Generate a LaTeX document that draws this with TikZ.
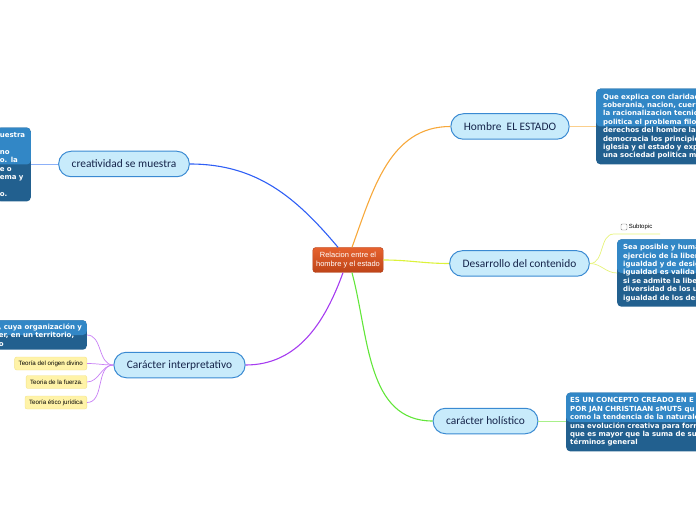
\documentclass[tikz,border=0pt]{standalone}
\usepackage{fontspec}
\newfontfamily\topicfont{Carlito}
\newfontfamily\boxfont{DejaVu Sans}
\newfontfamily\rootfont{Liberation Sans}
\usetikzlibrary{positioning}

\definecolor{rootTop}{HTML}{E6622E}
\definecolor{rootBot}{HTML}{BE4418}
\definecolor{rootLine}{HTML}{B03A14}
\definecolor{topicFill}{HTML}{C8EBFB}
\definecolor{topicLine}{HTML}{3A8AD2}
\definecolor{topicText}{HTML}{15244A}
\definecolor{boxTop}{HTML}{3287C6}
\definecolor{boxBot}{HTML}{22608F}
\definecolor{theoryFill}{HTML}{FFF3A8}
\definecolor{theoryLine}{HTML}{F3E38A}
\definecolor{linkBlue}{HTML}{2F5FF5}
\definecolor{linkOrange}{HTML}{F7A83A}
\definecolor{linkYellow}{HTML}{DCF23A}
\definecolor{linkGreen}{HTML}{62E63A}
\definecolor{linkPurple}{HTML}{A63CF0}
\definecolor{twigBlue}{HTML}{8CB0F8}
\definecolor{twigOrange}{HTML}{FBCF8C}
\definecolor{twigYellow}{HTML}{E6F37A}
\definecolor{twigGreen}{HTML}{A8F08A}
\definecolor{twigPurple}{HTML}{C880F5}

\tikzset{
  rootnode/.style={draw=rootLine, top color=rootTop, bottom color=rootBot, text=white,
    rounded corners=3, minimum width=70, minimum height=25, align=center,
    font=\rootfont\fontsize{7.5}{8.3}\selectfont},
  topic/.style={draw=topicLine, fill=topicFill, text=topicText, line width=1,
    rounded corners=12.5, minimum height=25.5, inner xsep=13,
    font=\topicfont\fontsize{11.4}{13}\selectfont},
  infobox/.style={fill=boxBot, text=white, rounded corners=4, align=left,
    inner xsep=6, inner ysep=5,
    font=\boxfont\bfseries\fontsize{7}{8.4}\selectfont,
    path picture={\fill[boxTop] (path picture bounding box.north west)
      rectangle (path picture bounding box.east);}},
  theory/.style={draw=theoryLine, fill=theoryFill, rounded corners=2,
    minimum height=13, inner xsep=4, inner ysep=1,
    font=\rootfont\fontsize{6.2}{7}\selectfont},
  checkbox/.style={draw=gray, fill=white, rounded corners=1, minimum size=6, inner sep=0},
  branch/.style={line width=1.1},
  twig/.style={line width=0.7},
}

\begin{document}
\begin{tikzpicture}[x=1pt, y=1pt]
    \useasboundingbox (0,0) rectangle (696,520);
    \clip (0,0) rectangle (696,520);
    % Central idea
    \node[rootnode] (root) at (348,260) {Relacion entre el\\hombre y el estado};
    % Main topics
    \node[topic] (crea) at (124,356) {creatividad se muestra};
    \node[topic] (hombre) at (510,393.5) {Hombre\ \ EL ESTADO};
    \node[topic] (desa) at (519.5,256.5) {Desarrollo del contenido};
    \node[topic] (holi) at (485.5,99) {carácter holístico};
    \node[topic] (inter) at (179.5,155) {Carácter interpretativo};
    % Text boxes (cut by the page edge)
    \node[infobox, text width=28, inner xsep=3, anchor=east] (creabox) at (31,355.5)
      {uestra\\\mbox{}\\no\\o. la\\e o\\ema y\\\mbox{}\\o.};
    \node[infobox, text width=130, inner xsep=7, anchor=west] (hombrebox) at (596,393.5)
      {Que explica con claridad\\soberania, nacion, cuerp\\la racionalizacion tecnic\\politica el problema filo\\derechos del hombre la\\democracia los principio\\iglesia y el estado y exp\\una sociedad politica m};
    \node[infobox, text width=120, anchor=west] (desabox) at (617,247)
      {Sea posible y huma\\ejercicio de la liber\\igualdad y de desig\\igualdad es valida\\si se admite la liber\\diversidad de los u\\igualdad de los der};
    \node[infobox, text width=160, inner xsep=4, anchor=west] (holibox) at (566,98)
      {ES UN CONCEPTO CREADO EN E\\POR JAN CHRISTIAAN sMUTS qu\\como la tendencia de la naturale\\una evolución creativa para forr\\que es mayor que la suma de su\\términos general};
    \node[infobox, text width=86, inner xsep=2, inner ysep=3.5, anchor=east] (interbox) at (87,185)
      {, cuya organización y\\er, en un territorio,\\o};
    % Theories
    \node[theory, anchor=east] (divino) at (87,156.5) {Teoría del origen divino};
    \node[theory, anchor=east] (fuerza) at (87,138) {Teoria de la fuerza.};
    \node[theory, anchor=east] (etico) at (87,117.5) {Teoría ético jurídica};
    % Subtopic
    \node[checkbox] (subbox) at (624,293) {};
    \node[right=1.5 of subbox, inner sep=0, font=\rootfont\fontsize{6}{7}\selectfont] (sub) {Subtopic};
    \coordinate (subleft) at (614,286);
    \coordinate (subright) at (660,286);
    % Branches from the centre
    \draw[branch, linkBlue] ([xshift=-10]root.north) to[out=130, in=0] (crea.east);
    \draw[branch, linkOrange] ([xshift=4]root.north) to[out=70, in=180] (hombre.west);
    \draw[branch, linkYellow] (root.east) to[out=0, in=180] (desa.west);
    \draw[branch, linkGreen] ([xshift=4]root.south) to[out=-75, in=180] (holi.west);
    \draw[branch, linkPurple] ([xshift=-5]root.south) to[out=-110, in=0] (inter.east);
    % Twigs
    \draw[twig, twigBlue] (crea.west) -- (creabox.east |- crea.west);
    \draw[twig, twigOrange] (hombre.east) -- (hombrebox.west |- hombre.east);
    \draw[twig, twigGreen] (holi.east) -- (holibox.west |- holi.east);
    \draw[twig, twigYellow] (desa.east) to[out=0, in=180] (desabox.west);
    \draw[twig, twigYellow] (desa.east) to[out=0, in=180] (subleft) -- (subright);
    \foreach \leaf in {interbox, divino, fuerza, etico}
      \draw[twig, twigPurple] (inter.west) to[out=180, in=0] (\leaf.east);
\end{tikzpicture}
\end{document}
